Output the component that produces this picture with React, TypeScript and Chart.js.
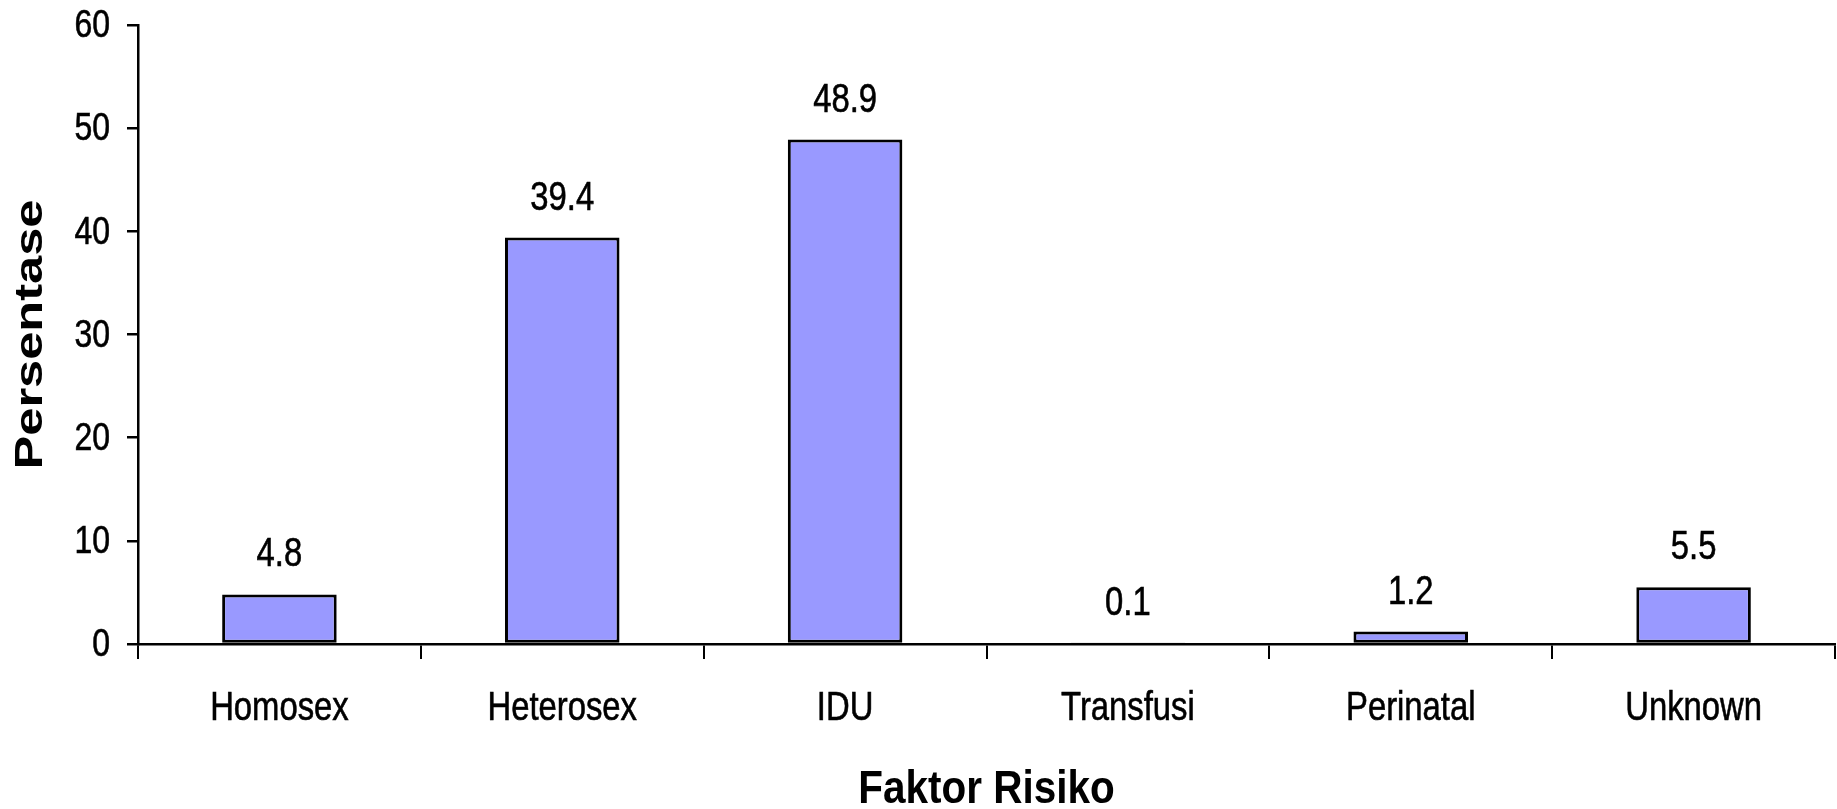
import React, { useEffect, useRef } from "react";
import { Chart, registerables } from "chart.js";

Chart.register(...registerables);

// Risk factors and their share of cases (%)
const categories = ["Homosex", "Heterosex", "IDU", "Transfusi", "Perinatal", "Unknown"];
const percentages = [4.8, 39.4, 48.9, 0.1, 1.2, 5.5];
const yMin = 0;
const yMax = 60;
const yStep = 10;
const xTitle = "Faktor Risiko";
const yTitle = "Persentase";

const FONT = "'Liberation Sans', Arial, sans-serif";
// Horizontal squeeze that gives the text its condensed look
const NARROW_SCALE = 0.82;

function drawSqueezed(
  ctx: CanvasRenderingContext2D,
  text: string,
  x: number,
  y: number,
  sx: number,
  stroke = 0
) {
  ctx.save();
  ctx.translate(x, y);
  ctx.scale(sx, 1);
  ctx.fillText(text, 0, 0);
  if (stroke > 0) {
    ctx.lineWidth = stroke;
    ctx.strokeStyle = "#000";
    ctx.strokeText(text, 0, 0);
  }
  ctx.restore();
}

// Condensed tick labels, value labels and axis titles
const condensedText = {
  id: "condensedText",
  afterDraw(chart: any) {
    const ctx: CanvasRenderingContext2D = chart.ctx;
    const area = chart.chartArea;
    const xs = chart.scales.x;
    const ys = chart.scales.y;
    ctx.save();
    ctx.fillStyle = "#000";

    // category labels
    ctx.font = `40px ${FONT}`;
    ctx.textAlign = "center";
    ctx.textBaseline = "alphabetic";
    xs.ticks.forEach((_t: any, i: number) => {
      drawSqueezed(ctx, String(chart.data.labels[i]), xs.getPixelForTick(i), 720, NARROW_SCALE, 0.6);
    });

    // value axis labels
    ctx.font = `39px ${FONT}`;
    ctx.textAlign = "right";
    ctx.textBaseline = "middle";
    ys.ticks.forEach((t: any, i: number) => {
      drawSqueezed(ctx, String(t.value), 110, ys.getPixelForTick(i) + 1.5, NARROW_SCALE, 0.6);
    });

    // bar values
    const meta = chart.getDatasetMeta(0);
    const data = chart.data.datasets[0].data as number[];
    ctx.font = `40px ${FONT}`;
    ctx.textAlign = "center";
    ctx.textBaseline = "alphabetic";
    meta.data.forEach((bar: any, i: number) => {
      drawSqueezed(ctx, data[i].toFixed(1), bar.x, bar.y - 28, NARROW_SCALE, 0.6);
    });

    // category axis title
    ctx.font = `bold 46px ${FONT}`;
    ctx.textAlign = "center";
    ctx.textBaseline = "alphabetic";
    drawSqueezed(ctx, xTitle, (area.left + area.right) / 2, 803, 0.88);

    // value axis title, rotated and stretched
    ctx.font = `bold 38px ${FONT}`;
    const w = ctx.measureText(yTitle).width;
    ctx.save();
    ctx.translate(42, (area.top + area.bottom) / 2);
    ctx.rotate(-Math.PI / 2);
    ctx.scale(270 / w, 1);
    ctx.fillText(yTitle, 0, 0);
    ctx.restore();

    ctx.restore();
  },
};

export default function App() {
  const canvasRef = useRef<HTMLCanvasElement | null>(null);

  useEffect(() => {
    if (!canvasRef.current) return;
    const chart = new Chart(canvasRef.current, {
      type: "bar",
      data: {
        labels: categories,
        datasets: [
          {
            data: percentages,
            backgroundColor: "#9999FF",
            borderColor: "#000000",
            borderWidth: 3,
            borderSkipped: false,
            categoryPercentage: 1,
            barPercentage: 0.405,
          },
        ],
      },
      options: {
        responsive: false,
        animation: false,
        layout: { padding: { left: 0, top: 25, right: 2, bottom: 0 } },
        plugins: {
          legend: { display: false },
          tooltip: { enabled: false },
          title: { display: false },
        },
        scales: {
          x: {
            grid: {
              display: true,
              drawOnChartArea: false,
              drawTicks: true,
              tickLength: 15,
              color: "#000",
              lineWidth: 2,
              offset: true,
            },
            border: { display: true, color: "#000", width: 2.5 },
            ticks: { display: false, autoSkip: false },
            title: { display: false },
            afterFit(scale: any) {
              scale.height = 165;
            },
          },
          y: {
            min: yMin,
            max: yMax,
            grid: {
              display: true,
              drawOnChartArea: false,
              drawTicks: true,
              tickLength: 11,
              color: "#000",
              lineWidth: 2.5,
            },
            border: { display: true, color: "#000", width: 2.5 },
            ticks: { display: false, stepSize: yStep },
            title: { display: false },
            afterFit(scale: any) {
              scale.width = 138;
            },
          },
        },
      },
      plugins: [condensedText],
    });
    return () => chart.destroy();
  }, []);

  return (
    <div style={{ position: "absolute", left: 0, top: 0, width: 1837, height: 809, background: "#fff" }}>
      <canvas ref={canvasRef} width={1837} height={809} style={{ display: "block" }} />
    </div>
  );
}
